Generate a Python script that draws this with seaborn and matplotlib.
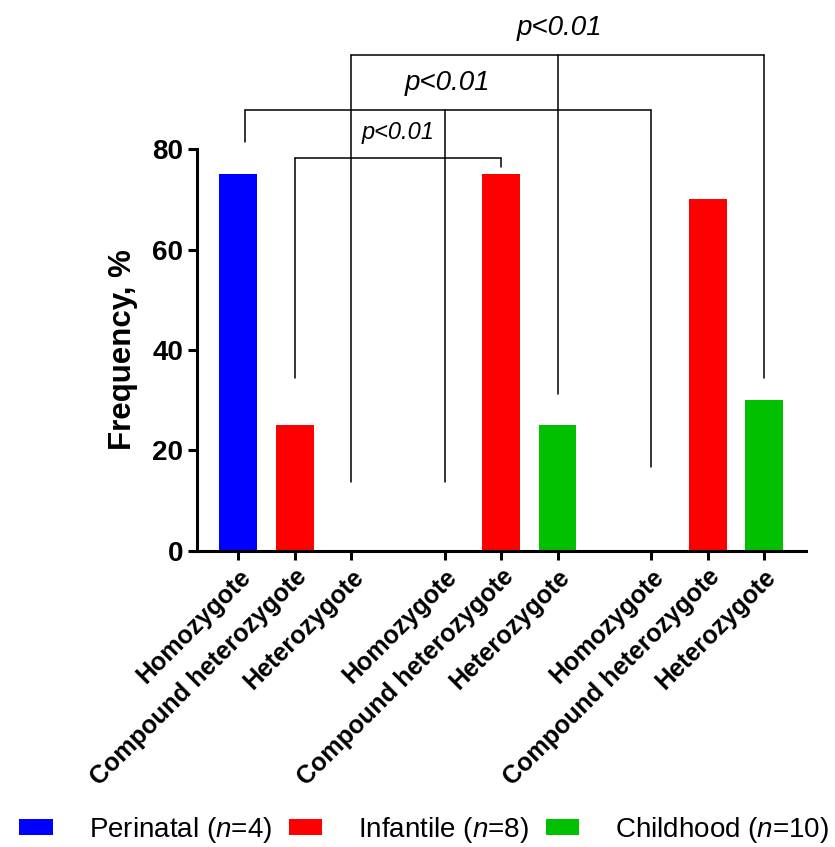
import matplotlib
matplotlib.use("Agg")
import matplotlib.pyplot as plt
import seaborn as sns
import pandas as pd

sns.set_style("ticks")
plt.rcParams["font.family"] = ["Liberation Sans", "DejaVu Sans"]
plt.rcParams["mathtext.fontset"] = "custom"
plt.rcParams["mathtext.rm"] = "Liberation Sans"
plt.rcParams["mathtext.it"] = "Liberation Sans:italic"
plt.rcParams["text.color"] = "black"
plt.rcParams["axes.labelcolor"] = "black"
plt.rcParams["axes.edgecolor"] = "black"

# ---------- data ----------
genotypes = ["Homozygote", "Compound heterozygote", "Heterozygote"]
n_groups = 3
freq = [75, 25, 0,   0, 75, 25,   0, 70, 30]
legend_labels = [r"Perinatal ($\it{n}$=$\it{4}$)", r"Infantile ($\it{n}$=$\it{8}$)",
                 r"Childhood ($\it{n}$=$\it{10}$)"]
colors = ["#0000FF", "#FF0000", "#00C000"]

# significance brackets: leg indices, top (%), leg bottoms (%), label y, label size
brackets = [
    dict(legs=[1, 4], top=78.2, bottoms=[34.4, 76.4], label_y=83.2, size=17),
    dict(legs=[0, 3, 6], top=87.8, bottoms=[81.4, 13.7, 16.7], label_y=93.1, size=20),
    dict(legs=[2, 5, 8], top=98.7, bottoms=[13.7, 31.2, 34.4], label_y=104.1, size=20),
]

# ---------- layout ----------
gap = 0.66
xpos = [g * (len(genotypes) + gap) + i for g in range(n_groups) for i in range(len(genotypes))]
df = pd.DataFrame({
    "x": xpos,
    "freq": freq,
    "group": [legend_labels[i] for _ in range(n_groups) for i in range(len(genotypes))],
})

fig = plt.figure(figsize=(8.35, 8.47), dpi=100)
ax = fig.add_axes([0.236, 0.3495, 0.729, 0.4745])

sns.barplot(data=df, x="x", y="freq", hue="group", hue_order=legend_labels,
            palette=dict(zip(legend_labels, colors)), native_scale=True,
            dodge=False, width=0.67, linewidth=0, saturation=1, ax=ax)

ax.set_xlim(-0.73, xpos[-1] + 0.74)
ax.set_ylim(0, 80)
ax.set_yticks(range(0, 81, 20))
ax.set_yticklabels([str(v) for v in range(0, 81, 20)], fontweight="bold", fontsize=20)
ax.set_xticks(xpos)
ax.set_xticklabels(genotypes * n_groups, rotation=45, ha="right",
                   rotation_mode="anchor", fontweight="bold", fontsize=18)
ax.tick_params(length=6.5, width=2.2, colors="black")
sns.despine(ax=ax)
for s in ["left", "bottom"]:
    ax.spines[s].set_linewidth(2.2)
    ax.spines[s].set_color("black")
ax.set_xlabel("")
ax.set_ylabel("Frequency, %", fontsize=22.5, fontweight="bold", labelpad=10)

# brackets
for b in brackets:
    lx = [xpos[i] for i in b["legs"]]
    if b["legs"][0] == 0:
        lx[0] += 0.12
    ax.plot([lx[0], lx[-1]], [b["top"], b["top"]], color="black", lw=1.1, clip_on=False)
    for x, y0 in zip(lx, b["bottoms"]):
        ax.plot([x, x], [y0, b["top"]], color="black", lw=1.1, clip_on=False)
    mid = (lx[0] + lx[-1]) / 2 if len(lx) == 2 else lx[1] + 0.04
    ax.text(mid, b["label_y"], "p<0.01", ha="center", va="center",
            fontstyle="italic", fontsize=b["size"], clip_on=False)

handles, labels = ax.get_legend_handles_labels()
ax.get_legend().remove()
fig.legend(handles, labels, loc="center", bbox_to_anchor=(0.508, 0.02), ncol=3,
           frameon=False, fontsize=20, handlelength=1.2, handleheight=0.5,
           handletextpad=1.3, columnspacing=0.6)

fig.savefig("out.png", dpi=100)
